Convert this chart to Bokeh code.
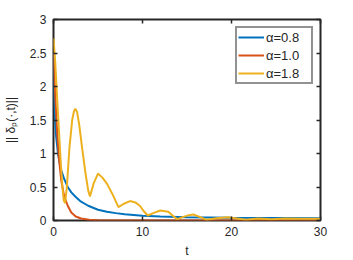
from bokeh.plotting import figure
from bokeh.models import LinearAxis, Range1d, Legend, LegendItem, FixedTicker
from bokeh.embed import file_html
from bokeh.resources import INLINE

# alpha = 0.8
t_a08 = [0, 0.05, 0.1, 0.2, 0.3, 0.5, 0.7, 0.87, 1.2, 1.6, 2.0, 2.5, 3.0, 3.9, 5.0, 6.0, 7.0, 8.0, 10.0, 12.0, 15.0, 20.0, 25.0, 30.0]
v_a08 = [2.5, 2.0, 1.75, 1.45, 1.25, 1.0, 0.85, 0.75, 0.62, 0.5, 0.42, 0.35, 0.29, 0.22, 0.16, 0.13, 0.11, 0.095, 0.07, 0.06, 0.05, 0.042, 0.037, 0.034]

# alpha = 1.0
t_a10 = [0, 0.2, 0.4, 0.6, 0.87, 1.2, 1.6, 2.0, 2.5, 3.1, 4.0, 5.0, 7.0, 10.0, 20.0, 30.0]
v_a10 = [2.5, 1.85, 1.35, 0.95, 0.6, 0.36, 0.22, 0.12, 0.06, 0.03, 0.01, 0.004, 0.001, 0.0, 0.0, 0.0]

# alpha = 1.8
t_a18 = [0, 0.2, 0.5, 0.8, 1.0, 1.15, 1.3, 1.5, 1.8, 2.1, 2.3, 2.45, 2.65, 2.9, 3.2, 3.6, 3.9, 4.1, 4.5, 5.0, 5.5, 6.0, 6.6, 7.3, 7.9, 8.6, 9.2, 9.7, 10.2, 10.6, 11.2, 12.0, 12.9, 13.5, 13.9, 14.5, 15.2, 15.7, 16.5, 17.2, 18.3, 19.6, 20.6, 21.6, 23.0, 24.5, 26.0, 28.0, 30.0]
v_a18 = [2.72, 2.35, 1.6, 0.9, 0.5, 0.3, 0.26, 0.5, 1.1, 1.5, 1.63, 1.67, 1.62, 1.42, 1.1, 0.7, 0.45, 0.36, 0.55, 0.70, 0.64, 0.55, 0.4, 0.2, 0.25, 0.29, 0.27, 0.22, 0.13, 0.075, 0.11, 0.15, 0.13, 0.06, 0.02, 0.05, 0.08, 0.09, 0.05, 0.01, 0.035, 0.05, 0.03, 0.01, 0.03, 0.02, 0.03, 0.025, 0.025]

labels = ["α=0.8", "α=1.0", "α=1.8"]
colors = ["#0072BD", "#D95319", "#EDB120"]
x_ticks = [0, 10, 20, 30]
y_ticks = [0, 0.5, 1, 1.5, 2, 2.5, 3]

FONT = "Liberation Sans"
AX = "#262626"

p = figure(width=353, height=260, output_backend="svg", toolbar_location=None,
           x_range=Range1d(0, 30), y_range=Range1d(0, 3),
           min_border_left=52, min_border_right=33, min_border_top=19, min_border_bottom=40)
p.grid.visible = False
p.outline_line_color = AX
p.outline_line_width = 2
p.background_fill_color = "white"
p.border_fill_color = "white"

series = [(t_a08, v_a08), (t_a10, v_a10), (t_a18, v_a18)]
renderers = []
for (tt, vv), c in zip(series, colors):
    r = p.line(tt, vv, line_color=c, line_width=2)
    renderers.append(r)

xa = p.xaxis[0]
ya = p.yaxis[0]
xa.ticker = FixedTicker(ticks=x_ticks)
ya.ticker = FixedTicker(ticks=y_ticks)
for ax in (xa, ya):
    ax.axis_line_color = None
    ax.major_tick_in = 4
    ax.major_tick_out = 0
    ax.minor_tick_line_color = None
    ax.major_tick_line_color = AX
    ax.major_tick_line_width = 1.5
    ax.major_label_text_font = FONT
    ax.major_label_text_color = AX
    ax.major_label_text_font_size = "12px"
    ax.axis_label_text_font = FONT
    ax.axis_label_text_color = AX
    ax.axis_label_text_font_size = "12px"
    ax.axis_label_text_font_style = "normal"
xa.major_label_standoff = 6
ya.major_label_standoff = 7
xa.axis_label = "t"
xa.axis_label_standoff = 5
ya.axis_label = "|| δₚ(·,t)||"
ya.axis_label_standoff = 9
ya.major_label_overrides = {0: "0", 1: "1", 2: "2", 3: "3"}

for loc, ticks in (("above", x_ticks), ("right", y_ticks)):
    ax = LinearAxis(ticker=FixedTicker(ticks=ticks))
    ax.axis_line_color = None
    ax.major_tick_in = 4
    ax.major_tick_out = 0
    ax.minor_tick_line_color = None
    ax.major_tick_line_color = AX
    ax.major_tick_line_width = 1.5
    ax.major_label_text_color = None
    ax.major_label_standoff = 0
    p.add_layout(ax, loc)

legend = Legend(items=[LegendItem(label=l, renderers=[r]) for l, r in zip(labels, renderers)],
                location="top_right")
legend.label_text_font = FONT
legend.label_text_font_size = "13px"
legend.label_text_color = AX
legend.glyph_width = 26
legend.glyph_height = 16
legend.label_height = 16
legend.label_width = 44
legend.label_standoff = 2
legend.spacing = 2
legend.padding = 1
legend.margin = 7
legend.border_line_color = AX
legend.border_line_width = 2
legend.background_fill_alpha = 1
p.add_layout(legend, "center")

open("out.html", "w").write(file_html(p, INLINE))
